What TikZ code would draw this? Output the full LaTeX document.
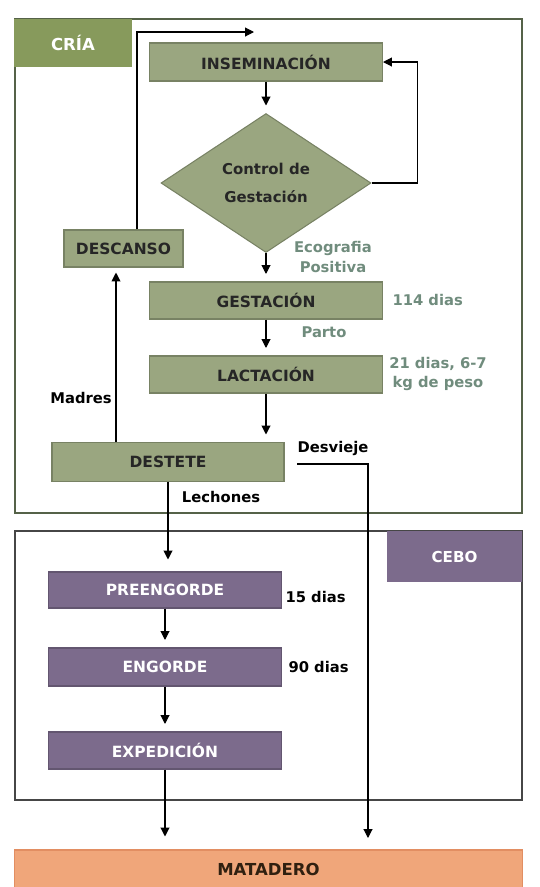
\documentclass[tikz,border=0pt]{standalone}
\usepackage{fontspec}
\setmainfont{DejaVu Sans}
\usetikzlibrary{shapes.geometric,arrows.meta}

\definecolor{criafill}{RGB}{154,166,128}
\definecolor{criaedge}{RGB}{120,130,100}
\definecolor{crialabel}{RGB}{135,154,92}
\definecolor{criaframe}{RGB}{85,98,72}
\definecolor{cebofill}{RGB}{124,107,140}
\definecolor{ceboframe}{RGB}{70,70,70}
\definecolor{matafill}{RGB}{240,166,122}
\definecolor{mataedge}{RGB}{226,142,98}
\definecolor{notecol}{RGB}{112,140,125}

\tikzset{
  box/.style={draw=criaedge, fill=criafill, text=black!85, inner sep=0pt,
    font=\bfseries\fontsize{8.8}{10}\selectfont, minimum height=0.74cm},
  cebobox/.style={box, draw=cebofill!80!black, fill=cebofill, text=white},
  note/.style={font=\bfseries\fontsize{8.4}{11.5}\selectfont, align=center, inner sep=0pt},
  flow/.style={->, shorten >=0.15cm}
}

\begin{document}
\begin{tikzpicture}[x=0.02cm, y=-0.02cm, line width=0.6pt,
    >={Triangle[length=5pt,width=5pt]}]
  \useasboundingbox (0,0) rectangle (539,887);

  % frames
  \draw[criaframe, line width=1.1pt] (15,19) rectangle (522,513);
  \node[fill=crialabel, text=white, minimum width=2.36cm, minimum height=0.96cm,
    font=\bfseries\fontsize{9.4}{10}\selectfont] (cria) at (73,43) {CRÍA};
  \draw[ceboframe, line width=1.1pt] (15,531) rectangle (522,800);
  \node[fill=cebofill, text=white, minimum width=2.7cm, minimum height=1.02cm,
    font=\bfseries\fontsize{8.6}{10}\selectfont] (cebo) at (454.5,556.5) {CEBO};

  % cria
  \node[box, minimum width=4.66cm, minimum height=0.76cm] (insem) at (266,62) {INSEMINACIÓN};
  \node[box, shape=diamond, minimum width=4.2cm, minimum height=2.78cm,
    align=center, font=\bfseries\fontsize{8.5}{16}\selectfont] (ctrl) at (266,183) {Control de\\Gestación};
  \node[box, minimum width=2.38cm] (descanso) at (123.5,248.5) {DESCANSO};
  \node[box, minimum width=4.66cm] (gest) at (266,300.5) {GESTACIÓN};
  \node[box, minimum width=4.66cm] (lact) at (266,374.5) {LACTACIÓN};
  \node[box, minimum width=4.64cm, minimum height=0.78cm] (destete) at (168,462) {DESTETE};

  % cebo
  \node[cebobox, minimum width=4.66cm, minimum height=0.72cm] (preeng) at (165,590) {PREENGORDE};
  \node[cebobox, minimum width=4.66cm, minimum height=0.76cm] (engorde) at (165,667) {ENGORDE};
  \node[cebobox, minimum width=4.66cm] (exped) at (165,750.5) {EXPEDICIÓN};

  \node[fill=matafill, draw=mataedge, text=black!75!brown, minimum width=10.18cm, minimum height=0.76cm,
    font=\bfseries\fontsize{9.4}{10}\selectfont] (matadero) at (268.5,869) {MATADERO};

  % labels
  \node[note, text=notecol] (ecog) at (333,257) {Ecografia\\Positiva};
  \node[note, text=notecol, anchor=west] (dias114) at (392,300) {114 dias};
  \node[note, text=notecol] (parto) at (324,332) {Parto};
  \node[note, text=notecol, font=\bfseries\fontsize{8.4}{10.5}\selectfont] (dias21) at (438,374) {21 dias, 6-7\\kg de peso};
  \node[note] (madres) at (81,398) {Madres};
  \node[note] (desvieje) at (333,448) {Desvieje};
  \node[note] (lechones) at (221,497) {Lechones};
  \node[note, anchor=west] (dias15) at (285,597) {15 dias};
  \node[note, anchor=west] (dias90) at (288,667) {90 dias};

  \coordinate (entry) at (254,32);
  \coordinate (desvstart) at (297,464);
  \coordinate (desvend) at (368,838);

  % connectors
  \draw[flow] (insem.south) -- (ctrl.north);
  \draw[flow] (ctrl.south) -- (gest.north);
  \draw[->] (ctrl.east) -- ++(46,0) |- (insem.east);
  \draw[flow] (gest.south) -- (lact.north);
  \draw[flow] (lact.south) -- (lact.south |- destete.north);
  \draw[->, shorten >=0.1cm] ([xshift=-0.15cm]destete.north -| descanso.south) -- ([xshift=-0.15cm]descanso.south);
  \draw[->] ([xshift=0.27cm]descanso.north) |- (entry);
  \draw[flow, shorten >=0.24cm] (destete.south) -- (destete.south |- preeng.north);
  \draw[flow] (preeng) -- (engorde);
  \draw[flow] (engorde) -- (exped);
  \draw[flow, shorten >=0.26cm] (exped.south) -- (exped.south |- matadero.north);
  \draw[->] (desvstart) -| (desvend);
\end{tikzpicture}
\end{document}
